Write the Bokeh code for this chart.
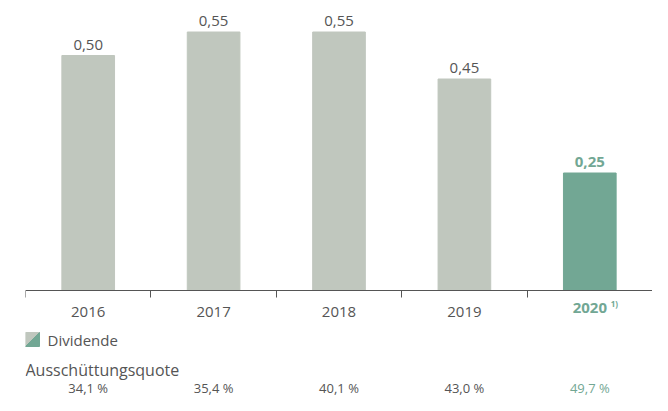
from bokeh.plotting import figure
from bokeh.models import Range1d, FixedTicker, ColumnDataSource
from bokeh.core.properties import value
from bokeh.embed import file_html
from bokeh.resources import INLINE

# ---- data ----
years = ["2016", "2017", "2018", "2019", "2020"]
dividend = [0.50, 0.55, 0.55, 0.45, 0.25]
payout = [34.1, 35.4, 40.1, 43.0, 49.7]
footnote = "1)"
legend_label = "Dividende"
payout_title = "Ausschüttungsquote"

GRAY = "#c0c7be"
GREEN = "#72a794"
TEXT = "#555555"
FONT = "Open Sans"

W, H = 652, 395
LEFT = 25
PX_PER_UNIT_Y = 470.0
BASE_FROM_TOP = 290  # baseline position inside figure (px from top)
cat_px = (W - LEFT) / 5.0

y_end = BASE_FROM_TOP / PX_PER_UNIT_Y
y_start = -(H - BASE_FROM_TOP) / PX_PER_UNIT_Y


def ypx(px_below_base):
    """pixel offset below the baseline -> data y"""
    return -px_below_base / PX_PER_UNIT_Y


def xpx(px_from_left):
    """pixel offset from axis start -> data x"""
    return -0.5 + px_from_left / cat_px


p = figure(width=W, height=H, output_backend="svg", toolbar_location=None,
           x_range=Range1d(-0.5, 4.5), y_range=Range1d(y_start, y_end),
           min_border_left=LEFT, min_border_right=0, min_border_top=0,
           min_border_bottom=0)
p.outline_line_color = None
p.grid.visible = False
p.yaxis.visible = False
p.background_fill_color = "white"

n = len(years)
xs = list(range(n))
colors = [GRAY] * (n - 1) + [GREEN]
labels = [f"{v:.2f}".replace(".", ",") for v in dividend]
src = ColumnDataSource(dict(x=xs, top=dividend, color=colors, label=labels))
p.vbar(x="x", top="top", bottom=0, width=0.42, color="color", source=src)

# value labels
p.text(x=xs[:-1], y=dividend[:-1], text=labels[:-1], text_align="center",
       text_baseline="bottom", y_offset=-6, text_font=value(FONT),
       text_font_size="15px", text_color=TEXT)
p.text(x=[xs[-1]], y=[dividend[-1]], text=[labels[-1]], text_align="center",
       text_baseline="bottom", y_offset=-6, text_font=value(FONT),
       text_font_size="15px", text_color=GREEN, text_font_style="bold")

# axis at zero
ax = p.xaxis[0]
ax.fixed_location = 0
ax.ticker = FixedTicker(ticks=xs, minor_ticks=[i - 0.5 for i in range(n + 1)])
ax.major_label_overrides = {i: (years[i] if i < n - 1 else "") for i in xs}
ax.major_tick_line_color = None
ax.major_tick_out = 0
ax.major_tick_in = 0
ax.minor_tick_line_color = TEXT
ax.minor_tick_out = 7
ax.minor_tick_in = 0
ax.axis_line_color = TEXT
ax.major_label_standoff = 9
ax.major_label_text_font = FONT
ax.major_label_text_font_size = "15px"
ax.major_label_text_color = TEXT

# 2020 label (bold green with footnote)
p.text(x=[xs[-1]], y=[ypx(17)], text=[years[-1]], text_align="center",
       text_baseline="middle", text_font=value(FONT), text_font_size="15px",
       text_color=GREEN, text_font_style="bold")
p.text(x=[xs[-1]], y=[ypx(13)], text=[footnote], x_offset=21, text_align="left",
       text_baseline="middle", text_font=value(FONT), text_font_size="8px",
       text_color=GREEN, text_font_style="bold")

# legend marker (split square)
t, b = 42, 56
l, r = 0, 14
p.patch(x=[xpx(l), xpx(r), xpx(l)], y=[ypx(t), ypx(t), ypx(b)], color=GRAY)
p.patch(x=[xpx(r), xpx(r), xpx(l)], y=[ypx(t), ypx(b), ypx(b)], color=GREEN)
p.text(x=[xpx(22)], y=[ypx((t + b) / 2)], text=[legend_label], text_align="left",
       text_baseline="middle", text_font=value(FONT), text_font_size="15px",
       text_color=TEXT)

# payout title
p.text(x=[xpx(0)], y=[ypx(79)], text=[payout_title], text_align="left",
       text_baseline="middle", text_font=value(FONT), text_font_size="16px",
       text_color=TEXT)

# payout values
pl = [f"{v:.1f}".replace(".", ",") + " %" for v in payout]
p.text(x=xs[:-1], y=[ypx(97)] * (n - 1), text=pl[:-1], text_align="center",
       text_baseline="middle", text_font=value(FONT), text_font_size="13px",
       text_color=TEXT)
p.text(x=[xs[-1]], y=[ypx(97)], text=[pl[-1]], text_align="center",
       text_baseline="middle", text_font=value(FONT), text_font_size="13px",
       text_color=GREEN)

open("out.html", "w").write(file_html(p, INLINE))
